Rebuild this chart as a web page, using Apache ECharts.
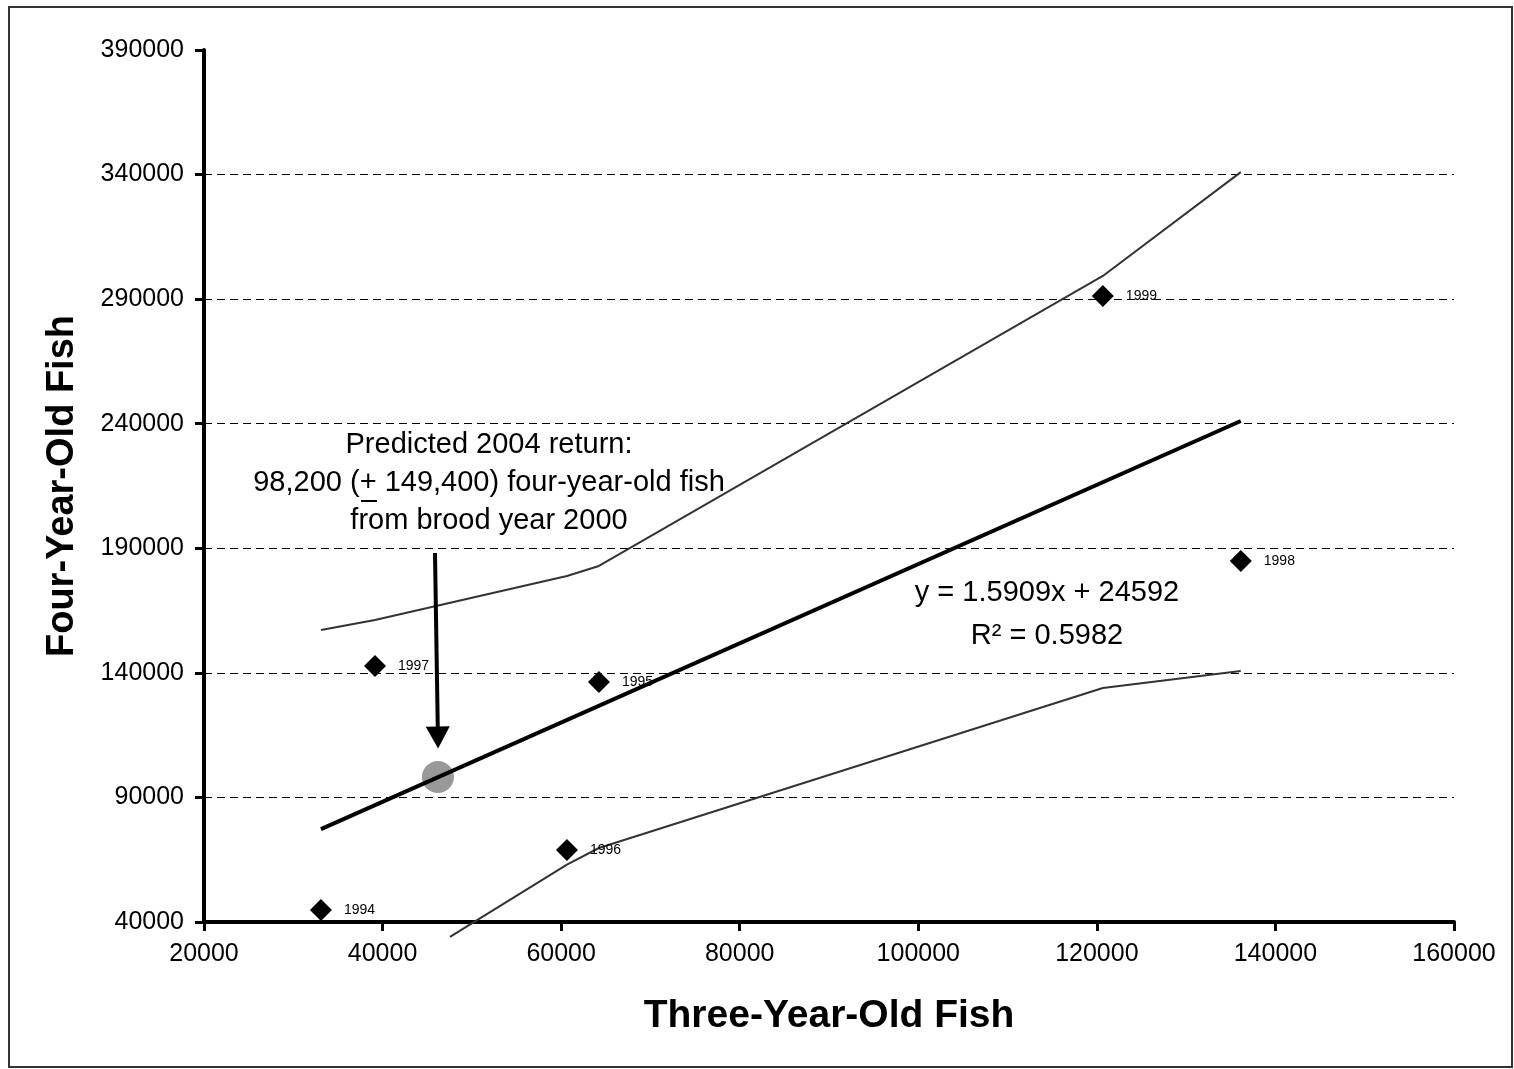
<!DOCTYPE html>
<html>
<head>
<meta charset="utf-8">
<script src="https://cdn.jsdelivr.net/npm/echarts@6/dist/echarts.min.js"></script>
<style>
  html, body { margin: 0; padding: 0; background: #fff; }
  #chart { width: 1514px; height: 1069px; }
</style>
</head>
<body>
<div id="chart"></div>
<script>
// brood years and returns (three-year-old vs four-year-old fish)
const years = ['1994', '1995', '1996', '1997', '1998', '1999'];
const threeYearOld = [33100, 64230, 60650, 39150, 136120, 120670];
const fourYearOld = [44800, 136330, 68900, 142750, 184900, 291260];

// fitted trend line y = 1.5909x + 24592 (ends)
const trendLine = [[33100, 77300], [136120, 241100]];

// prediction interval lines
const upperBand = [[33100, 157200], [39150, 161200], [60650, 178900], [64230, 182900], [120670, 299300], [136120, 341000]];
const lowerBand = [[47550, 34000], [60650, 63000], [64230, 69700], [120670, 133900], [136120, 140700]];

// predicted 2004 return and the arrow pointing at it
const predicted = [46200, 98200];
const arrowFrom = [45870, 188100];
const arrowTo = [46200, 114050];

const xTicks = { min: 20000, max: 160000, step: 20000 };
const yTicks = { min: 40000, max: 390000, step: 50000 };

const FONT = 'Liberation Sans, Arial, sans-serif';

let chart = echarts.init(document.getElementById('chart'), null, { renderer: 'canvas' });

chart.setOption({
  animation: false,
  backgroundColor: '#fff',
  grid: { left: 204, right: 60, top: 50, bottom: 147 },
  xAxis: {
    type: 'value',
    min: xTicks.min,
    max: xTicks.max,
    interval: xTicks.step,
    name: 'Three-Year-Old Fish',
    nameLocation: 'middle',
    nameGap: 75,
    nameTextStyle: { fontFamily: FONT, fontSize: 39, fontWeight: 'bold', color: '#000' },
    axisLine: { show: true, onZero: false, lineStyle: { color: '#000', width: 4 } },
    axisTick: { show: true, length: 9, lineStyle: { color: '#000', width: 3 } },
    axisLabel: { fontFamily: FONT, fontSize: 25, color: '#000', margin: 20, formatter: v => String(v) },
    splitLine: { show: false }
  },
  yAxis: {
    type: 'value',
    min: yTicks.min,
    max: yTicks.max,
    interval: yTicks.step,
    name: 'Four-Year-Old Fish',
    nameLocation: 'middle',
    nameGap: 122,
    nameRotate: 90,
    nameTextStyle: { fontFamily: FONT, fontSize: 38, fontWeight: 'bold', color: '#000' },
    axisLine: { show: true, onZero: false, lineStyle: { color: '#000', width: 4 } },
    axisTick: { show: true, length: 9, lineStyle: { color: '#000', width: 3 } },
    axisLabel: { fontFamily: FONT, fontSize: 25, color: '#000', margin: 20, formatter: v => String(v) },
    splitLine: {
      show: true,
      showMinLine: false,
      showMaxLine: false,
      lineStyle: { color: '#000', width: 1, type: [8, 5] }
    }
  },
  series: [
    {
      name: 'upper',
      type: 'line',
      data: upperBand,
      symbol: 'none',
      lineStyle: { color: '#333', width: 2 },
      z: 2
    },
    {
      name: 'lower',
      type: 'line',
      data: lowerBand,
      symbol: 'none',
      clip: false,
      lineStyle: { color: '#333', width: 2 },
      z: 2
    },
    {
      name: 'trend',
      type: 'line',
      data: trendLine,
      symbol: 'none',
      lineStyle: { color: '#000', width: 4 },
      z: 3
    },
    {
      name: 'prediction',
      type: 'scatter',
      data: [predicted],
      symbol: 'circle',
      symbolSize: 32,
      itemStyle: { color: '#999', opacity: 1 },
      z: 2,
      markLine: {
        silent: true,
        symbol: ['none', 'triangle'],
        symbolSize: [24, 22],
        lineStyle: { color: '#000', width: 4, type: 'solid' },
        label: { show: false },
        data: [[{ coord: arrowFrom }, { coord: arrowTo }]]
      }
    },
    {
      name: 'returns',
      type: 'scatter',
      data: threeYearOld.map((x, i) => [x, fourYearOld[i], years[i]]),
      symbol: 'diamond',
      symbolSize: 22,
      itemStyle: { color: '#000', opacity: 1 },
      label: {
        show: true,
        position: 'right',
        distance: 12,
        formatter: p => p.value[2],
        fontFamily: FONT,
        fontSize: 14,
        color: '#000'
      },
      z: 4
    }
  ],
  graphic: [
    {
      type: 'rect',
      shape: { x: 9, y: 7, width: 1503, height: 1060 },
      style: { fill: 'none', stroke: '#333', lineWidth: 2 },
      silent: true
    },
    {
      type: 'text',
      style: { text: 'Predicted 2004 return:', x: 489, y: 445, font: '29px ' + FONT, fill: '#000', textAlign: 'center', textVerticalAlign: 'middle' }
    },
    {
      type: 'text',
      style: { text: '98,200 (+ 149,400) four-year-old fish', x: 489, y: 483, font: '29px ' + FONT, fill: '#000', textAlign: 'center', textVerticalAlign: 'middle' }
    },
    {
      type: 'line',
      shape: { x1: 361, y1: 501, x2: 377, y2: 501 },
      style: { stroke: '#000', lineWidth: 2 }
    },
    {
      type: 'text',
      style: { text: 'from brood year 2000', x: 489, y: 521, font: '29px ' + FONT, fill: '#000', textAlign: 'center', textVerticalAlign: 'middle' }
    },
    {
      type: 'text',
      style: { text: 'y = 1.5909x + 24592', x: 1047, y: 593, font: '29px ' + FONT, fill: '#000', textAlign: 'center', textVerticalAlign: 'middle' }
    },
    {
      type: 'text',
      style: { text: 'R² = 0.5982', x: 1047, y: 636, font: '29px ' + FONT, fill: '#000', textAlign: 'center', textVerticalAlign: 'middle' }
    }
  ]
});
</script>
</body>
</html>
